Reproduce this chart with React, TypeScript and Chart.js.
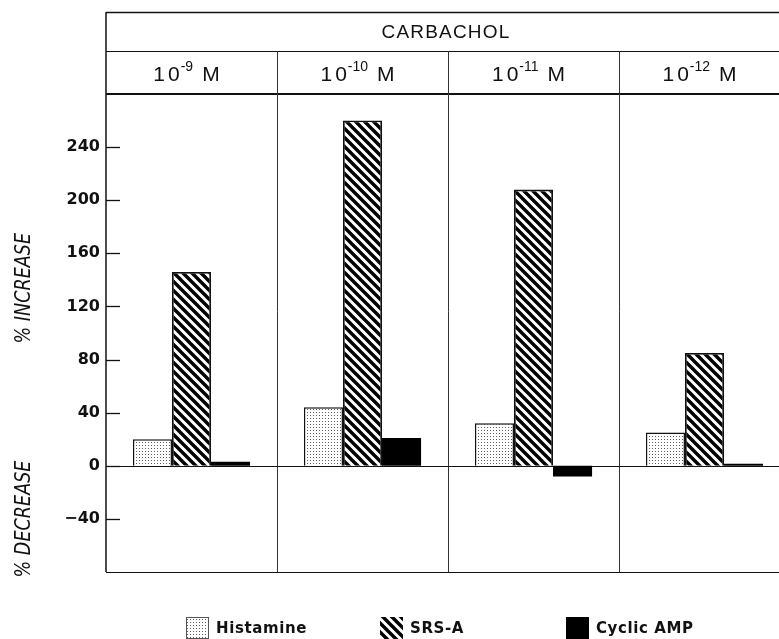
import React, { useEffect, useRef } from 'react';
import { Chart, registerables } from 'chart.js';

Chart.register(...registerables);

// ---- data ----
const headerTitle = 'CARBACHOL';
const exponents = ['-9', '-10', '-11', '-12'];
const unitLabel = 'M';
const seriesNames = ['Histamine', 'SRS-A', 'Cyclic AMP'];
const histamine = [20, 44, 32, 25];
const srsA = [146, 260, 208, 85];
const cyclicAMP = [3, 21, -8, 1.5];
const yTicks = [-40, 0, 40, 80, 120, 160, 200, 240];
const yMin = -80;
const yMax = 280;
const increaseLabel = '% INCREASE';
const decreaseLabel = '% DECREASE';

const INK = '#111';

function makeStipple(): CanvasPattern {
  const c = document.createElement('canvas');
  c.width = 3;
  c.height = 3;
  const g = c.getContext('2d')!;
  g.fillStyle = '#fff';
  g.fillRect(0, 0, 3, 3);
  g.fillStyle = '#5e5e5e';
  g.fillRect(1, 1, 1, 1);
  return g.createPattern(c, 'repeat')!;
}

function makeHatch(): CanvasPattern {
  const s = 9;
  const c = document.createElement('canvas');
  c.width = s;
  c.height = s;
  const g = c.getContext('2d')!;
  g.fillStyle = '#fff';
  g.fillRect(0, 0, s, s);
  g.strokeStyle = '#000';
  g.lineWidth = 3.4;
  g.beginPath();
  for (const o of [-s, 0, s]) {
    g.moveTo(o - 2, -2);
    g.lineTo(o + s + 2, s + 2);
  }
  g.stroke();
  return g.createPattern(c, 'repeat')!;
}

function hline(ctx: CanvasRenderingContext2D, x1: number, x2: number, y: number, w: number) {
  ctx.lineWidth = w;
  ctx.beginPath();
  ctx.moveTo(x1, y);
  ctx.lineTo(x2, y);
  ctx.stroke();
}
function vline(ctx: CanvasRenderingContext2D, x: number, y1: number, y2: number, w: number) {
  ctx.lineWidth = w;
  ctx.beginPath();
  ctx.moveTo(x, y1);
  ctx.lineTo(x, y2);
  ctx.stroke();
}

const framePlugin = {
  id: 'framePlugin',
  beforeDatasetsDraw(chart: any) {
    const { ctx, chartArea: a, scales } = chart;
    const ys = scales.y;
    const n = chart.data.labels.length;
    const w = (a.right - a.left) / n;
    const top = a.top - 82;
    const mid = a.top - 43;
    ctx.save();
    ctx.strokeStyle = INK;
    vline(ctx, a.left, top, a.bottom, 1.5);
    hline(ctx, a.left, a.right, top + 0.5, 1.5);
    hline(ctx, a.left, a.right, mid + 0.5, 1);
    hline(ctx, a.left, a.right, a.top, 2.2);
    ctx.strokeStyle = '#333';
    for (let k = 1; k < n; k++) {
      const x = Math.round(a.left + k * w) + 0.5;
      vline(ctx, x, mid, a.bottom, 1);
    }
    ctx.strokeStyle = INK;
    const y0 = Math.round(ys.getPixelForValue(0)) + 0.5;
    hline(ctx, a.left, a.right, y0, 1);
    hline(ctx, a.left, a.right, Math.round(a.bottom) + 0.5, 1);
    for (const t of yTicks) {
      const y = Math.round(ys.getPixelForValue(t)) + 0.5;
      hline(ctx, a.left, a.left + 14, y, 1.3);
    }
    ctx.restore();
  },
  afterDraw(chart: any) {
    const { ctx, chartArea: a, scales } = chart;
    const ys = scales.y;
    const n = chart.data.labels.length;
    const w = (a.right - a.left) / n;
    const top = a.top - 82;
    const mid = a.top - 43;
    ctx.save();
    ctx.fillStyle = INK;

    // header title
    ctx.font = '19px "Liberation Sans"';
    (ctx as any).letterSpacing = '1.2px';
    ctx.textAlign = 'center';
    ctx.textBaseline = 'middle';
    ctx.fillText(headerTitle, (a.left + a.right) / 2 - 2, (top + mid) / 2 + 1);

    // concentration labels
    ctx.textAlign = 'left';
    ctx.textBaseline = 'alphabetic';
    const baseFont = '21px "Liberation Sans"';
    const supFont = '14px "Liberation Sans"';
    for (let i = 0; i < n; i++) {
      const cx = a.left + (i + 0.5) * w - 5;
      (ctx as any).letterSpacing = '3px';
      ctx.font = baseFont;
      const wBase = ctx.measureText('10').width;
      (ctx as any).letterSpacing = '0px';
      ctx.font = supFont;
      const wSup = ctx.measureText(exponents[i]).width;
      ctx.font = baseFont;
      const wUnit = ctx.measureText(unitLabel).width;
      const gap = 9;
      const total = wBase - 2 + wSup + gap + wUnit;
      let x = cx - total / 2;
      const by = (mid + a.top) / 2 + 8;
      (ctx as any).letterSpacing = '3px';
      ctx.font = baseFont;
      ctx.fillText('10', x, by);
      x += wBase - 2;
      (ctx as any).letterSpacing = '0px';
      ctx.font = supFont;
      ctx.fillText(exponents[i], x, by - 10);
      x += wSup + gap;
      ctx.font = baseFont;
      ctx.fillText(unitLabel, x, by);
    }

    // axis titles
    ctx.font = 'italic 20px "DejaVu Sans"';
    ctx.textAlign = 'center';
    ctx.textBaseline = 'middle';
    const drawRot = (text: string, x: number, y: number) => {
      ctx.save();
      ctx.translate(x, y);
      ctx.rotate(-Math.PI / 2);
      ctx.scale(0.88, 1.05);
      ctx.fillText(text, 0, 0);
      ctx.restore();
    };
    drawRot(increaseLabel, 25, (ys.getPixelForValue(60) + ys.getPixelForValue(200)) / 2 - 5);
    drawRot(decreaseLabel, 25, 519);

    // legend
    const swatchX = [186, 380, 566];
    const swTop = 617;
    ctx.font = 'bold 15px "DejaVu Sans"';
    (ctx as any).letterSpacing = '0.6px';
    ctx.textAlign = 'left';
    ctx.textBaseline = 'alphabetic';
    chart.data.datasets.forEach((ds: any, i: number) => {
      const sx = swatchX[i];
      ctx.fillStyle = ds.backgroundColor;
      ctx.fillRect(sx, swTop, 23, 22);
      if (i === 0) {
        ctx.strokeStyle = '#555';
        ctx.lineWidth = 1;
        ctx.strokeRect(sx + 0.5, swTop + 0.5, 22, 21);
      }
      ctx.fillStyle = INK;
      ctx.fillText(ds.label, sx + 30, swTop + 16);
    });
    ctx.restore();
  },
};

export default function App() {
  const ref = useRef<HTMLCanvasElement>(null);
  useEffect(() => {
    const canvas = ref.current!;
    const stipple = makeStipple();
    const hatch = makeHatch();
    const labels = exponents.map((e) => `10^${e} ${unitLabel}`);
    const chart = new Chart(canvas, {
      type: 'bar',
      data: {
        labels,
        datasets: [
          {
            label: seriesNames[0],
            data: histamine,
            backgroundColor: stipple as any,
            borderColor: INK,
            borderWidth: 1.5,
          },
          {
            label: seriesNames[1],
            data: srsA,
            backgroundColor: hatch as any,
            borderColor: INK,
            borderWidth: 1.8,
          },
          {
            label: seriesNames[2],
            data: cyclicAMP,
            backgroundColor: '#000',
            borderColor: '#000',
            borderWidth: 0,
          },
        ],
      },
      options: {
        animation: false,
        responsive: false,
        devicePixelRatio: 1,
        layout: { padding: { top: 94, bottom: 67, left: 0, right: 10 } },
        datasets: {
          bar: { categoryPercentage: 0.685, barPercentage: 1.0 },
        },
        plugins: {
          legend: { display: false },
          tooltip: { enabled: false },
          title: { display: false },
        },
        scales: {
          x: { display: false, offset: true },
          y: {
            min: yMin,
            max: yMax,
            grid: { display: false, drawTicks: false },
            border: { display: false },
            ticks: {
              color: INK,
              padding: 6,
              font: { family: 'DejaVu Sans', size: 16, weight: 'bold' },
              callback: (v: any) => (Number(v) < 0 ? '\u2212' + Math.abs(Number(v)) : String(v)),
            },
            afterBuildTicks: (s: any) => {
              s.ticks = yTicks.map((v) => ({ value: v }));
            },
            afterFit: (s: any) => {
              s.width = 106;
            },
          },
        },
      },
      plugins: [framePlugin],
    });
    return () => chart.destroy();
  }, []);

  return (
    <div
      style={{
        position: 'fixed',
        left: 0,
        top: 0,
        width: 779,
        height: 639,
        overflow: 'hidden',
        background: '#fff',
      }}
    >
      <canvas ref={ref} width={800} height={639} style={{ display: 'block', width: 800, height: 639 }} />
    </div>
  );
}
